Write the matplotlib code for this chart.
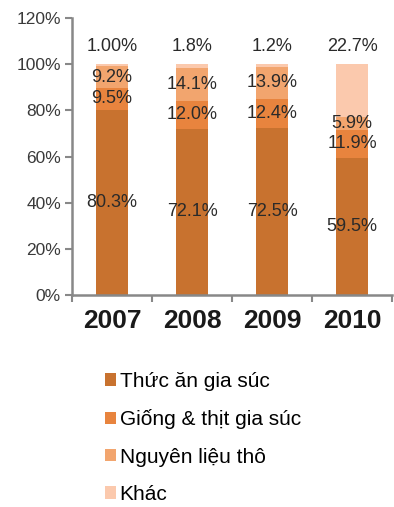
import matplotlib
matplotlib.use("Agg")
import matplotlib.pyplot as plt
from matplotlib.patches import Patch
import numpy as np

plt.rcParams['font.family'] = ['Liberation Sans', 'DejaVu Sans']

years = ["2007", "2008", "2009", "2010"]
series_names = ["Thức ăn gia súc", "Giống & thịt gia súc", "Nguyên liệu thô", "Khác"]
thuc_an = [80.3, 72.1, 72.5, 59.5]
giong = [9.5, 12.0, 12.4, 11.9]
nguyen_lieu = [9.2, 14.1, 13.9, 5.9]
khac = [1.0, 1.8, 1.2, 22.7]
label_texts = [
    ["80.3%", "72.1%", "72.5%", "59.5%"],
    ["9.5%", "12.0%", "12.4%", "11.9%"],
    ["9.2%", "14.1%", "13.9%", "5.9%"],
    ["1.00%", "1.8%", "1.2%", "22.7%"],
]
colors = ["#C8722F", "#E8843E", "#F2A56E", "#FBC9AD"]

fig = plt.figure(figsize=(3.94, 5.07), dpi=100)
ax = fig.add_axes([0.183, 0.418, 0.812, 0.5465])

x = np.arange(len(years))
series = [thuc_an, giong, nguyen_lieu, khac]
bottom = np.zeros(len(years))
for i, vals in enumerate(series):
    vals = np.array(vals)
    ax.bar(x, vals, bottom=bottom, width=0.41, color=colors[i],
           linewidth=0, zorder=2)
    for j in range(len(years)):
        if i == 3:
            y = 107.5
        else:
            y = bottom[j] + vals[j] / 2
        ax.text(x[j], y, label_texts[i][j], ha="center", va="center",
                fontsize=13, color="#2a2a2a", zorder=3)
    bottom += vals

ax.set_xlim(-0.5, 3.5)
ax.set_ylim(0, 120)
ax.set_yticks(range(0, 121, 20))
ax.set_yticklabels([f"{v}%" for v in range(0, 121, 20)], fontsize=12.5, color="#3a3a3a")
ax.set_xticks([-0.5, 0.5, 1.5, 2.5, 3.5], minor=False)
ax.set_xticklabels([])
ax.set_xticks(x, minor=True)
ax.set_xticklabels(years, minor=True, fontsize=19, fontweight="bold", color="#1a1a1a")
ax.tick_params(axis="x", which="minor", length=0, pad=10)
ax.tick_params(axis="x", which="major", length=5, width=1.5, color="#888888", direction="out")
ax.tick_params(axis="y", length=5, width=1.5, color="#888888", direction="out", pad=3)
for s in ["top", "right"]:
    ax.spines[s].set_visible(False)
for s in ["left", "bottom"]:
    ax.spines[s].set_color("#888888")
    ax.spines[s].set_linewidth(1.8)

handles = [Patch(facecolor=c, edgecolor="none") for c in colors]
fig.legend(handles, series_names, loc="upper left", bbox_to_anchor=(0.24, 0.287),
           frameon=False, fontsize=15, handlelength=0.55, handleheight=0.55,
           handletextpad=0.15, labelspacing=0.88, borderpad=0)

fig.savefig("out.png", dpi=100)
